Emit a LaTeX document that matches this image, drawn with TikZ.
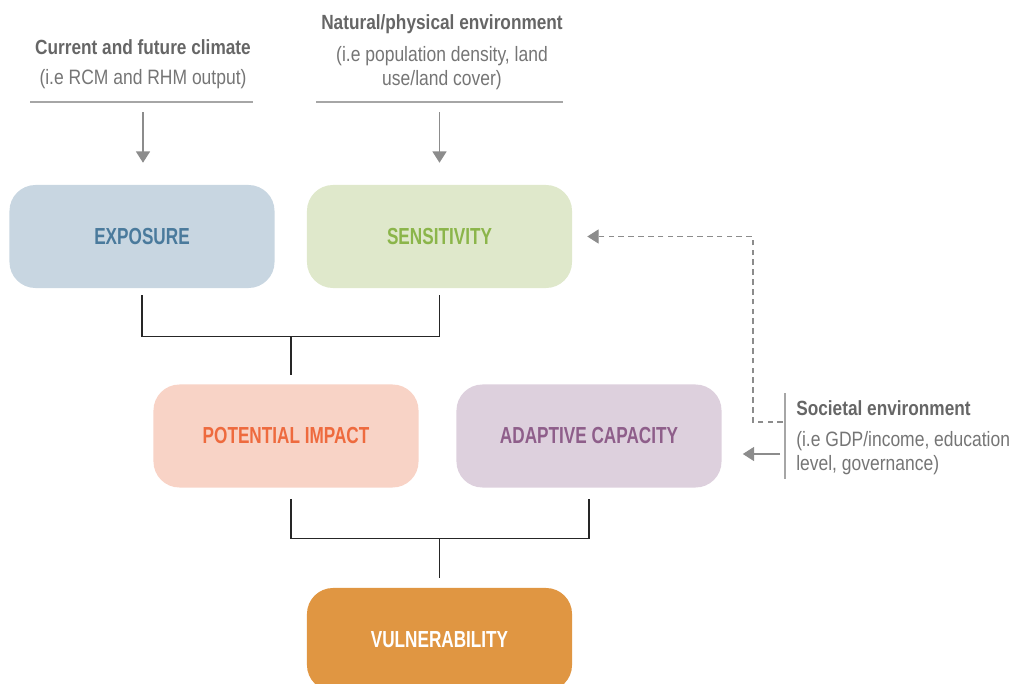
\documentclass[tikz,border=0pt]{standalone}
\usepackage{fontspec}
\setmainfont{Liberation Sans}[FakeStretch=0.84]
\newfontfamily\boxfont{Liberation Sans}[FakeStretch=0.74]
\usetikzlibrary{arrows.meta}
\definecolor{headgray}{HTML}{666666}
\definecolor{notegray}{HTML}{757575}
\definecolor{rulegray}{HTML}{A6A6A6}
\definecolor{arrgray}{HTML}{8C8C8C}
\definecolor{expofill}{HTML}{C8D6E1}
\definecolor{expotext}{HTML}{4A7A9C}
\definecolor{sensfill}{HTML}{DFE8CB}
\definecolor{senstext}{HTML}{8BB54A}
\definecolor{potfill}{HTML}{F8D3C6}
\definecolor{pottext}{HTML}{EE6A3E}
\definecolor{adapfill}{HTML}{DDD0DD}
\definecolor{adaptext}{HTML}{8E5E8A}
\definecolor{vulnfill}{HTML}{E09642}
\begin{document}
\begin{tikzpicture}[x=0.025cm, y=-0.025cm,
    box/.style={rounded corners=0.65cm, minimum width=6.625cm, minimum height=2.575cm, inner sep=0pt, font=\boxfont\bfseries\fontsize{16.5}{19}\selectfont},
    head/.style={inner sep=0pt, text=headgray, font=\bfseries\fontsize{14.6}{17}\selectfont},
    note/.style={inner sep=0pt, text=notegray, align=center, font=\fontsize{14.8}{17}\selectfont},
    rule/.style={draw=rulegray, line width=0.9pt},
    arr/.style={draw=arrgray, line width=0.8pt, -{Triangle[length=8pt,width=10pt]}},
    link/.style={draw=black!85, line width=0.8pt}]
  \useasboundingbox (0,0) rectangle (1013,684);
  \node[head] (climH) at (143,47) {Current and future climate};
  \node[note] (climN) at (143,79) {(i.e RCM and RHM output)};
  \node[head] (natH) at (442,24) {Natural/physical environment};
  \node[note] (natN) at (442,68) {(i.e population density, land\\use/land cover)};
  \node[head, anchor=west] (socH) at (796,408) {Societal environment};
  \node[note, anchor=west, align=left] (socN) at (796,453) {(i.e GDP/income, education\\level, governance)};
  \node[box, fill=expofill, text=expotext] (expo) at (142,236.5) {EXPOSURE};
  \node[box, fill=sensfill, text=senstext] (sens) at (439.5,236.5) {SENSITIVITY};
  \node[box, fill=potfill, text=pottext] (pot) at (286,436) {POTENTIAL IMPACT};
  \node[box, fill=adapfill, text=adaptext] (adap) at (589,436) {ADAPTIVE CAPACITY};
  \node[box, fill=vulnfill, text=white] (vuln) at (439.5,639.5) {VULNERABILITY};
  \draw[rule] (30,102) -- (253,102);
  \draw[rule] (316,102) -- (563,102);
  \draw[rule] (785,393) -- (785,479);
  \coordinate (climA) at (143,112);
  \coordinate (natA) at (439.5,112);
  \coordinate (socD) at (783,422);
  \coordinate (socA) at (780,454);
  \coordinate (b1) at (291,336);
  \coordinate (b2) at (439.5,538);
  \draw[arr, shorten >=0.55cm] (climA) -- (climA |- expo.north);
  \draw[arr, shorten >=0.55cm] (natA) -- (sens.north);
  \draw[arr, dash pattern=on 4pt off 3pt, shorten >=0.375cm] (socD) -- ++(-30,0) |- (sens.east);
  \draw[arr, shorten >=0.525cm] (socA) -- (socA -| adap.east);
  \draw[link, shorten <=0.175cm, shorten >=0.175cm] (expo.south) -- ++(0,48.5) -| (sens.south);
  \draw[link, shorten >=0.225cm] (b1) -- (b1 |- pot.north);
  \draw[link, shorten <=0.275cm, shorten >=0.275cm] (pot.south -| b1) -- ++(0,51) -| (adap.south);
  \draw[link, shorten >=0.25cm] (b2) -- (vuln.north);
\end{tikzpicture}
\end{document}
